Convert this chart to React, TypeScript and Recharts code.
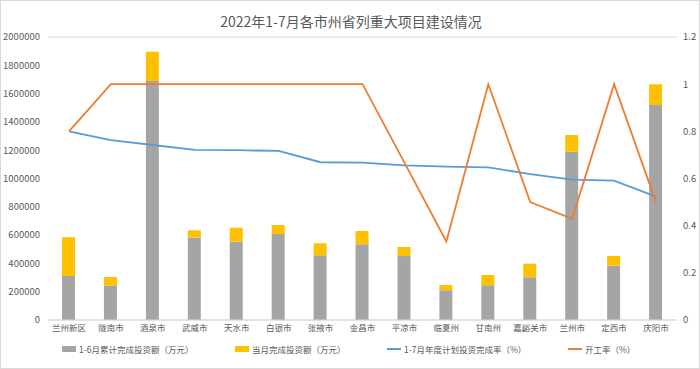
import React from 'react';
import { ComposedChart, Bar, Line, XAxis, YAxis, CartesianGrid, Legend } from 'recharts';

const categories = ['兰州新区', '陇南市', '酒泉市', '武威市', '天水市', '白银市', '张掖市', '金昌市', '平凉市', '临夏州', '甘南州', '嘉峪关市', '兰州市', '定西市', '庆阳市'];
const cumulativeInvest = [311000, 242000, 1689000, 582000, 553000, 608000, 457000, 535000, 452000, 210000, 245000, 302000, 1189000, 384000, 1519000];
const monthInvest = [274000, 62000, 207000, 52000, 99000, 63000, 85000, 94000, 64000, 37000, 73000, 96000, 118000, 68000, 147000];
const completionRate = [0.8, 0.763, 0.742, 0.721, 0.72, 0.717, 0.669, 0.667, 0.656, 0.65, 0.647, 0.619, 0.595, 0.591, 0.523];
const startRate = [0.8, 1, 1, 1, 1, 1, 1, 1, 0.667, 0.333, 1, 0.5, 0.429, 1, 0.5];
const leftTicks = [0, 200000, 400000, 600000, 800000, 1000000, 1200000, 1400000, 1600000, 1800000, 2000000];
const rightTicks = [0, 0.2, 0.4, 0.6, 0.8, 1, 1.2];

const seriesNames = {
  cum: '1-6月累计完成投资额（万元）',
  month: '当月完成投资额（万元）',
  rate: '1-7月年度计划投资完成率（%）',
  start: '开工率（%）',
};

const data = categories.map((c, i) => ({
  name: c,
  cum: cumulativeInvest[i],
  month: monthInvest[i],
  rate: completionRate[i],
  start: startRate[i],
}));

const FONT = '"Noto Sans CJK SC", "Noto Sans", sans-serif';
const TEXT = '#595959';

const legendItems = [
  { key: 'cum', color: '#A5A5A5', type: 'rect', left: 62 },
  { key: 'month', color: '#FFC000', type: 'rect', left: 235 },
  { key: 'rate', color: '#5B9BD5', type: 'line', left: 387 },
  { key: 'start', color: '#ED7D31', type: 'line', left: 568 },
];

const renderLegend = () => (
  <div style={{ position: 'relative', width: 700, height: 16 }}>
    {legendItems.map((it) => (
      <div
        key={it.key}
        style={{
          position: 'absolute',
          left: it.left,
          top: 0,
          display: 'flex',
          alignItems: 'center',
          height: 16,
          fontFamily: FONT,
          fontSize: 8.5,
          color: TEXT,
          whiteSpace: 'nowrap',
        }}
      >
        <span
          style={{
            display: 'inline-block',
            width: 14,
            height: it.type === 'rect' ? 6 : 2,
            background: it.color,
            marginRight: 3,
          }}
        />
        <span>{(seriesNames as any)[it.key]}</span>
      </div>
    ))}
  </div>
);

export default function App() {
  return (
    <div
      style={{
        position: 'absolute',
        left: 0,
        top: 0,
        width: 700,
        height: 369,
        background: '#fff',
        border: '1px solid #D9D9D9',
        boxSizing: 'border-box',
        fontFamily: FONT,
      }}
    >
      <div
        style={{
          position: 'absolute',
          left: 0,
          top: 10,
          width: 700,
          textAlign: 'center',
          fontSize: 14,
          color: TEXT,
          fontFamily: FONT,
          lineHeight: '20px',
        }}
      >
        2022年1-7月各市州省列重大项目建设情况
      </div>
      <div style={{ position: 'absolute', left: -1, top: -1 }}>
        <ComposedChart
          width={700}
          height={369}
          data={data}
          margin={{ top: 37, right: 0, left: 0, bottom: 29 }}
          barSize={13}
        >
          <CartesianGrid vertical={false} stroke="#D9D9D9" strokeWidth={1} />
          <XAxis
            dataKey="name"
            interval={0}
            tickLine={false}
            axisLine={{ stroke: '#D9D9D9' }}
            tickSize={0}
            tickMargin={5}
            height={20}
            tick={{ fontSize: 8.5, fill: TEXT, fontFamily: FONT }}
          />
          <YAxis
            yAxisId="left"
            orientation="left"
            domain={[0, 2000000]}
            ticks={leftTicks}
            width={48}
            tickLine={false}
            axisLine={false}
            tickSize={0}
            tickMargin={8}
            interval={0}
            tick={{ fontSize: 9.5, fill: TEXT, fontFamily: FONT }}
          />
          <YAxis
            yAxisId="right"
            orientation="right"
            domain={[0, 1.2]}
            ticks={rightTicks}
            width={23}
            tickLine={false}
            axisLine={false}
            tickSize={0}
            tickMargin={6}
            interval={0}
            tick={{ fontSize: 9.5, fill: TEXT, fontFamily: FONT, textAnchor: 'start' }}
          />
          <Bar yAxisId="left" dataKey="cum" name={seriesNames.cum} stackId="a" fill="#A5A5A5" isAnimationActive={false} />
          <Bar yAxisId="left" dataKey="month" name={seriesNames.month} stackId="a" fill="#FFC000" isAnimationActive={false} />
          <Line yAxisId="right" type="linear" dataKey="rate" name={seriesNames.rate} stroke="#5B9BD5" strokeWidth={1.8} dot={false} isAnimationActive={false} />
          <Line yAxisId="right" type="linear" dataKey="start" name={seriesNames.start} stroke="#ED7D31" strokeWidth={1.8} dot={false} isAnimationActive={false} />
          <Legend
            layout="horizontal"
            verticalAlign="middle"
            align="center"
            content={renderLegend}
            wrapperStyle={{ position: 'absolute', left: 0, top: 341, width: 700, height: 16 }}
          />
        </ComposedChart>
      </div>
    </div>
  );
}
